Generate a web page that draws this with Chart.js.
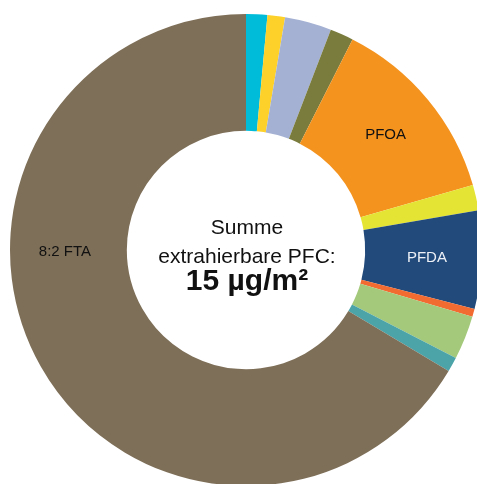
<!DOCTYPE html>
<html>
<head>
<meta charset="utf-8">
<script src="https://cdn.jsdelivr.net/npm/chart.js@4"></script>
<style>
  html, body { margin: 0; padding: 0; background: #fff; overflow: hidden; }
  #wrap { position: absolute; left: 0; top: 0; width: 492px; height: 500px; }
</style>
</head>
<body>
<div id="wrap"><canvas id="pfc"></canvas></div>
<script>
// Anteile der extrahierbaren PFC (in %), im Uhrzeigersinn ab 12 Uhr
const labels = ['PFBA', 'PFPeA', 'PFHxA', 'PFHpA', 'PFOA', 'PFNA', 'PFDA', 'PFUnA', 'PFDoA', '6:2 FTA', '8:2 FTA'];
const values = [1.45, 1.2, 3.2, 1.6, 13.1, 1.75, 6.7, 0.55, 3.0, 1.0, 66.4];
const colors = ['#00bcd9', '#fdd12a', '#a5b1d3', '#7a7c3d', '#f5931f', '#e4e435', '#224a7a', '#f26b30', '#a4c97b', '#4ca4a9', '#7e6f58'];

// welche Segmente beschriftet werden (Farbe + optional fester Winkel in Grad ab 12 Uhr)
const shownLabels = {
  'PFOA': { color: '#111' },
  'PFDA': { color: '#eef1f7' },
  '8:2 FTA': { color: '#111', angle: 269.5 }
};
const centerLines = ['Summe', 'extrahierbare PFC:', '15 µg/m²'];

const FONT = '"Liberation Sans", Arial, Helvetica, sans-serif';

const labelPlugin = {
  id: 'segLabels',
  afterDatasetsDraw(chart) {
    const ctx = chart.ctx;
    const meta = chart.getDatasetMeta(0);
    ctx.save();
    ctx.font = '15px ' + FONT;
    ctx.textAlign = 'center';
    ctx.textBaseline = 'middle';
    meta.data.forEach((arc, i) => {
      const cfg = shownLabels[labels[i]];
      if (!cfg) return;
      const p = arc.getProps(['x', 'y', 'startAngle', 'endAngle', 'innerRadius', 'outerRadius'], true);
      let a = (p.startAngle + p.endAngle) / 2;
      if (cfg.angle !== undefined) a = (cfg.angle - 90) * Math.PI / 180;
      const r = p.innerRadius + (p.outerRadius - p.innerRadius) * 0.53;
      ctx.fillStyle = cfg.color;
      ctx.fillText(labels[i], p.x + Math.cos(a) * r, p.y + Math.sin(a) * r);
    });
    ctx.restore();
  }
};

const centerPlugin = {
  id: 'centerText',
  afterDraw(chart) {
    const ctx = chart.ctx;
    const arc = chart.getDatasetMeta(0).data[0];
    const cx = arc.x, cy = arc.y;
    ctx.save();
    ctx.fillStyle = '#111';
    ctx.textAlign = 'center';
    ctx.textBaseline = 'alphabetic';
    ctx.font = '21px ' + FONT;
    ctx.fillText(centerLines[0], cx + 1, cy - 16);
    ctx.fillText(centerLines[1], cx + 1, cy + 13);
    ctx.font = 'bold 30px ' + FONT;
    ctx.fillText(centerLines[2], cx + 1, cy + 40);
    ctx.restore();
  }
};

new Chart(document.getElementById('pfc'), {
  type: 'doughnut',
  data: {
    labels: labels,
    datasets: [{
      data: values,
      backgroundColor: colors,
      borderWidth: 0
    }]
  },
  options: {
    responsive: true,
    maintainAspectRatio: false,
    animation: false,
    cutout: '50.5%',
    layout: { padding: 10 },
    plugins: {
      legend: { display: false },
      tooltip: { enabled: false }
    }
  },
  plugins: [labelPlugin, centerPlugin]
});
</script>
</body>
</html>
